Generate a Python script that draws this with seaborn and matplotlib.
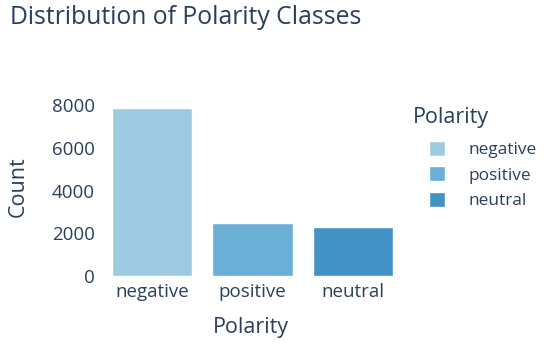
import matplotlib
matplotlib.use('Agg')
import matplotlib.pyplot as plt
import pandas as pd
import seaborn as sns

# ── Data ──
categories = ['negative', 'positive', 'neutral']
counts = [7860, 2500, 2300]
colors = ['#9ecae1', '#6baed6', '#4292c6']
yticks = [0, 2000, 4000, 6000, 8000]

TEXT = '#2a3f5f'
W, H = 550, 347

sns.set_theme(style='white')
plt.rcParams['font.family'] = ['Open Sans', 'DejaVu Sans']

df = pd.DataFrame({'Polarity': categories, 'Count': counts})

fig = plt.figure(figsize=(W / 100, H / 100), dpi=100)
ax = fig.add_axes([0.185, 0.205, 0.548, 0.507])

sns.barplot(data=df, x='Polarity', y='Count', hue='Polarity',
            palette=dict(zip(categories, colors)), order=categories,
            hue_order=categories, dodge=False, width=0.8, saturation=1,
            ax=ax, legend=True)

ax.set_ylim(0, 8260)
ax.set_yticks(yticks)
ax.set_yticklabels([str(t) for t in yticks])
ax.tick_params(axis='both', length=0, labelsize=13.5, labelcolor=TEXT)
ax.tick_params(axis='x', pad=5)
ax.tick_params(axis='y', pad=5)
for s in ax.spines.values():
    s.set_visible(False)

ax.set_xlabel('Polarity', fontsize=15.5, color=TEXT)
ax.set_ylabel('Count', fontsize=15.5, color=TEXT)
# place axis titles by their centres (pixel positions from the reference)
ax.xaxis.set_label_coords(251 / W, 1 - 328 / H, transform=fig.transFigure)
ax.xaxis.label.set_va('center')
ax.yaxis.set_label_coords(18 / W, 1 - 187 / H, transform=fig.transFigure)
ax.yaxis.label.set_va('center')

fig.text(10 / W, 1 - 18 / H, 'Distribution of Polarity Classes', fontsize=17.8,
         color=TEXT, va='center', ha='left')

# legend: title as separate text, entries indented like the reference
fig.text(413 / W, 1 - 118 / H, 'Polarity', fontsize=15.5, color=TEXT,
         va='center', ha='left')
leg = ax.legend(loc='upper left', bbox_to_anchor=(415 / W, 1 - 127 / H),
                bbox_transform=fig.transFigure, frameon=False, fontsize=12.4,
                handlelength=0.95, handleheight=0.95, handletextpad=1.35,
                labelspacing=0.47, borderpad=0.3)
for t in leg.get_texts():
    t.set_color(TEXT)

fig.savefig('out.png', dpi=100)
